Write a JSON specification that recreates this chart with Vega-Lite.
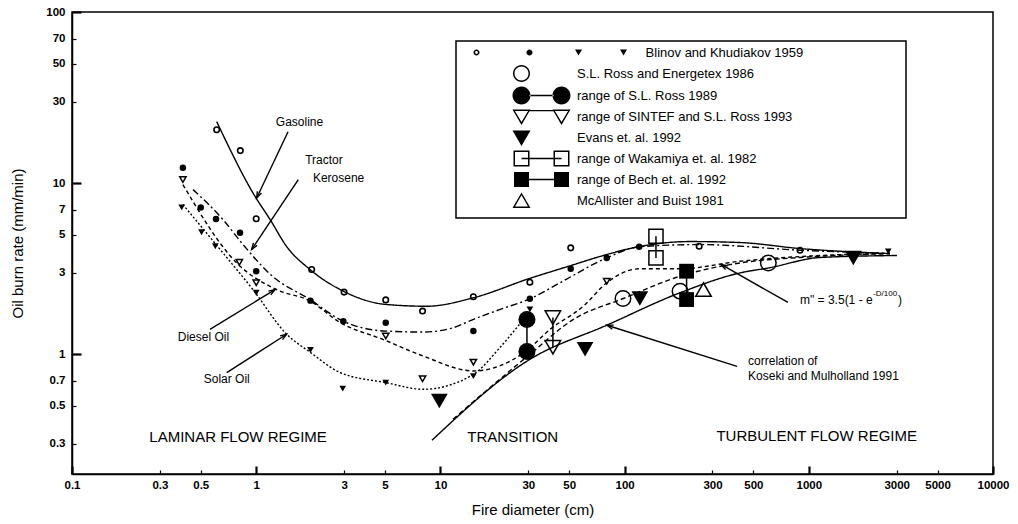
{
  "$schema": "https://vega.github.io/schema/vega-lite/v6.json",
  "width": 921,
  "height": 462,
  "autosize": {"type": "none"},
  "padding": {"left": 72, "top": 12, "right": 25, "bottom": 50},
  "background": "white",
  "config": {
    "view": {"stroke": "black", "strokeWidth": 1.5},
    "font": "Liberation Sans",
    "axis": {
      "labelFont": "Liberation Sans", "labelFontSize": 11.5, "labelFontWeight": "bold", "labelColor": "black",
      "titleFont": "Liberation Sans", "titleFontSize": 15, "titleFontWeight": "normal", "titleColor": "black",
      "domainColor": "black", "domainWidth": 1.5, "tickColor": "black", "grid": false,
      "labelFlush": false, "labelOverlap": false, "labelBound": false
    },
    "legend": {"strokeWidth": 1.5}
  },
  "datasets": {
    "gasPts": [{"x":0.61,"y":20.5},{"x":0.82,"y":15.5},{"x":1.0,"y":6.2},{"x":2.0,"y":3.13},{"x":3.0,"y":2.31},{"x":5.05,"y":2.08},{"x":8.0,"y":1.79},{"x":15.1,"y":2.17},{"x":30.6,"y":2.64},{"x":51,"y":4.19},{"x":254,"y":4.28},{"x":896,"y":4.06}],
    "kerPts": [{"x":0.40,"y":12.3},{"x":0.50,"y":7.22},{"x":0.605,"y":6.18},{"x":0.817,"y":5.13},{"x":1.0,"y":3.06},{"x":1.97,"y":2.06},{"x":2.97,"y":1.56},{"x":5.05,"y":1.53},{"x":15.1,"y":1.37},{"x":30.6,"y":2.11},{"x":51,"y":3.16},{"x":80,"y":3.66},{"x":120,"y":4.25}],
    "diePts": [{"x":0.40,"y":10.5},{"x":0.81,"y":3.45},{"x":1.0,"y":2.62},{"x":5.05,"y":1.28},{"x":8.0,"y":0.72},{"x":15.1,"y":0.90},{"x":80,"y":2.67}],
    "solPts": [{"x":0.394,"y":7.22},{"x":0.505,"y":5.17},{"x":0.60,"y":4.28},{"x":1.0,"y":2.29},{"x":1.97,"y":1.06},{"x":2.95,"y":0.63},{"x":5.05,"y":0.684},{"x":15.1,"y":0.747},{"x":30.6,"y":1.83},{"x":2700,"y":4.0}],
    "curves": [
      {"curve":"gas","x":0.61,"y":22.9},{"curve":"gas","x":0.985,"y":8.38},{"curve":"gas","x":1.19,"y":6.13},{"curve":"gas","x":1.46,"y":4.28},{"curve":"gas","x":1.96,"y":3.13},{"curve":"gas","x":2.97,"y":2.34},{"curve":"gas","x":5.0,"y":1.96},{"curve":"gas","x":8.42,"y":1.91},{"curve":"gas","x":15.1,"y":2.14},{"curve":"gas","x":30.6,"y":2.78},{"curve":"gas","x":51,"y":3.30},{"curve":"gas","x":73.5,"y":3.73},{"curve":"gas","x":120,"y":4.26},{"curve":"gas","x":226,"y":4.56},{"curve":"gas","x":423,"y":4.50},{"curve":"gas","x":896,"y":4.15},{"curve":"gas","x":2760,"y":3.88},
      {"curve":"ker","x":0.454,"y":9.17},{"curve":"ker","x":0.66,"y":6.13},{"curve":"ker","x":0.848,"y":4.38},{"curve":"ker","x":1.23,"y":2.85},{"curve":"ker","x":1.96,"y":2.09},{"curve":"ker","x":2.84,"y":1.60},{"curve":"ker","x":4.9,"y":1.37},{"curve":"ker","x":8.07,"y":1.35},{"curve":"ker","x":11.7,"y":1.43},{"curve":"ker","x":15.1,"y":1.60},{"curve":"ker","x":21.1,"y":1.83},{"curve":"ker","x":30.6,"y":2.11},{"curve":"ker","x":44.6,"y":2.62},{"curve":"ker","x":80,"y":3.66},{"curve":"ker","x":120,"y":4.25},{"curve":"ker","x":254,"y":4.38},{"curve":"ker","x":896,"y":4.06},{"curve":"ker","x":2760,"y":3.88},
      {"curve":"die","x":0.40,"y":9.8},{"curve":"die","x":0.784,"y":3.42},{"curve":"die","x":1.29,"y":2.39},{"curve":"die","x":1.96,"y":2.05},{"curve":"die","x":2.84,"y":1.54},{"curve":"die","x":4.9,"y":1.22},{"curve":"die","x":8.07,"y":0.977},{"curve":"die","x":15.1,"y":0.80},{"curve":"die","x":29,"y":1.04},{"curve":"die","x":39.4,"y":1.40},{"curve":"die","x":59.7,"y":1.91},{"curve":"die","x":80,"y":2.62},{"curve":"die","x":120,"y":3.16},{"curve":"die","x":200,"y":3.16},{"curve":"die","x":423,"y":3.50},{"curve":"die","x":1150,"y":3.78},{"curve":"die","x":2760,"y":3.88},
      {"curve":"sol","x":0.40,"y":7.5},{"curve":"sol","x":0.637,"y":4.10},{"curve":"sol","x":0.96,"y":2.39},{"curve":"sol","x":1.464,"y":1.31},{"curve":"sol","x":1.96,"y":1.03},{"curve":"sol","x":2.84,"y":0.785},{"curve":"sol","x":5.05,"y":0.684},{"curve":"sol","x":8.07,"y":0.625},{"curve":"sol","x":15.1,"y":0.764},{"curve":"sol","x":21.1,"y":1.10},{"curve":"sol","x":27.7,"y":1.56},
      {"curve":"mul","x":9.0,"y":0.315},{"curve":"mul","x":30.6,"y":0.935},{"curve":"mul","x":80,"y":1.48},{"curve":"mul","x":200,"y":2.29},{"curve":"mul","x":423,"y":2.99},{"curve":"mul","x":616,"y":3.21},{"curve":"mul","x":1150,"y":3.68},{"curve":"mul","x":3010,"y":3.78},
      {"curve":"frm","x":11.7,"y":0.418},{"curve":"frm","x":30.6,"y":1.0},{"curve":"frm","x":52.7,"y":1.60},{"curve":"frm","x":98.4,"y":2.12},{"curve":"frm","x":200,"y":2.86},{"curve":"frm","x":423,"y":3.42},{"curve":"frm","x":896,"y":3.68},{"curve":"frm","x":2760,"y":3.88}
    ],
    "ranges": [{"x":29.5,"y":1.60,"y2":1.04},{"x":40.8,"y":1.64,"y2":1.10},{"x":148,"y":4.9,"y2":3.66},{"x":217,"y":3.06,"y2":2.09}],
    "rossEnergetex": [{"x":98,"y":2.12},{"x":200,"y":2.34},{"x":603,"y":3.42}],
    "ross1989": [{"x":29.5,"y":1.60},{"x":29.5,"y":1.04}],
    "sintef": [{"x":40.8,"y":1.64},{"x":40.8,"y":1.10}],
    "evans": [{"x":9.87,"y":0.534},{"x":61,"y":1.07},{"x":121,"y":2.12},{"x":1745,"y":3.66}],
    "wakamiya": [{"x":148,"y":4.9},{"x":148,"y":3.66}],
    "bech": [{"x":217,"y":3.06},{"x":217,"y":2.09}],
    "mcallister": [{"x":268,"y":2.39}],
    "arrows": [
      {"x":1.006,"y":8.2,"x2":1.489,"y2":19.96,"angle":205},
      {"x":0.945,"y":4.10,"x2":1.693,"y2":10.48,"angle":214},
      {"x":1.265,"y":2.39,"x2":0.561,"y2":1.40,"angle":58},
      {"x":1.464,"y":1.31,"x2":0.692,"y2":0.782,"angle":57},
      {"x":334,"y":3.35,"x2":771,"y2":2.01,"angle":300},
      {"x":80.2,"y":1.48,"x2":408,"y2":0.851,"angle":288}
    ],
    "regimes": [{"label":"LAMINAR FLOW REGIME","x":0.797,"y":0.328},{"label":"TRANSITION","x":24.7,"y":0.328},{"label":"TURBULENT FLOW REGIME","x":1104,"y":0.332}],
    "fuelLabels": [{"label":"Gasoline","x":1.718,"y":22.8},{"label":"Tractor","x":2.334,"y":13.7},{"label":"Kerosene","x":2.80,"y":10.77},{"label":"Diesel Oil","x":0.517,"y":1.27},{"label":"Solar Oil","x":0.692,"y":0.722}],
    "leftLabels": [{"label":"m\" = 3.5(1 - e","x":896,"y":2.09},{"label":")","x":3050,"y":2.09},{"label":"correlation of","x":468,"y":0.91},{"label":"Koseki and Mulholland 1991","x":468,"y":0.745}],
    "supLabels": [{"label":"-D/100","x":2233,"y":2.24}],
    "series": [{"series":"Blinov and Khudiakov 1959"},{"series":"S.L. Ross and Energetex 1986"},{"series":"range of S.L. Ross 1989"},{"series":"range of SINTEF and S.L. Ross 1993"},{"series":"Evans et. al. 1992"},{"series":"range of Wakamiya et. al. 1982"},{"series":"range of Bech et. al. 1992"},{"series":"McAllister and Buist 1981"}]
  },
  "encoding": {
    "x": {"field": "x", "type": "quantitative",
      "scale": {"type": "log", "domain": [0.1, 10000], "nice": false},
      "axis": {
        "title": "Fire diameter (cm)", "titlePadding": 12,
        "values": [0.1,0.3,0.5,1,3,5,10,30,50,100,300,500,1000,3000,5000,10000],
        "format": "~g",
        "tickSize": {"condition": {"test": "indexof([0.1,1,10,100,1000,10000], datum.value) >= 0", "value": -8}, "value": -4},
        "tickWidth": {"condition": {"test": "indexof([0.1,1,10,100,1000,10000], datum.value) >= 0", "value": 2.2}, "value": 1.2},
        "labelPadding": {"condition": {"test": "indexof([0.1,1,10,100,1000,10000], datum.value) >= 0", "value": 13}, "value": 9}
      }
    },
    "y": {"field": "y", "type": "quantitative",
      "scale": {"type": "log", "domain": [0.2, 100], "nice": false},
      "axis": {
        "title": "Oil burn rate (mm/min)", "titlePadding": 20,
        "values": [0.3,0.5,0.7,1,3,5,7,10,30,50,70,100],
        "format": "~g",
        "tickSize": {"condition": {"test": "indexof([1,10,100], datum.value) >= 0", "value": -9}, "value": -4},
        "tickWidth": {"condition": {"test": "indexof([1,10,100], datum.value) >= 0", "value": 2.2}, "value": 1.2},
        "labelPadding": {"condition": {"test": "indexof([1,10,100], datum.value) >= 0", "value": 16}, "value": 11}
      }
    }
  },
  "layer": [
    {"data": {"name": "curves"}, "mark": {"type": "line", "interpolate": "monotone", "color": "black", "strokeWidth": 1.4},
      "encoding": {"detail": {"field": "curve"}, "strokeDash": {"field": "curve", "type": "nominal", "legend": null,
        "scale": {"domain": ["gas","ker","die","sol","mul","frm"], "range": [[1,0],[7,3,2,3],[4,3],[2,2],[1,0],[5,3]]}}}},
    {"data": {"name": "ranges"}, "mark": {"type": "rule", "color": "black", "strokeWidth": 1.5}, "encoding": {"y2": {"field": "y2"}}},
    {"data": {"name": "arrows"}, "mark": {"type": "rule", "color": "black", "strokeWidth": 1.4}, "encoding": {"x2": {"field": "x2"}, "y2": {"field": "y2"}}},
    {"data": {"name": "arrows"}, "mark": {"type": "point", "shape": "M-0.55,1.6L0,0L0.55,1.6", "filled": false, "color": "black", "strokeWidth": 1.4, "size": 64, "opacity": 1},
      "encoding": {"angle": {"field": "angle", "type": "quantitative", "scale": null}}},
    {"data": {"name": "gasPts"}, "mark": {"type": "point", "shape": "circle", "filled": false, "color": "black", "strokeWidth": 1.6, "size": 30, "opacity": 1}},
    {"data": {"name": "kerPts"}, "mark": {"type": "point", "shape": "circle", "filled": true, "color": "black", "size": 42, "opacity": 1}},
    {"data": {"name": "diePts"}, "mark": {"type": "point", "shape": "triangle-down", "filled": false, "color": "black", "strokeWidth": 1.5, "size": 40, "opacity": 1}},
    {"data": {"name": "solPts"}, "mark": {"type": "point", "shape": "triangle-down", "filled": true, "color": "black", "size": 45, "opacity": 1}},
    {"data": {"name": "rossEnergetex"}, "mark": {"type": "point", "shape": "circle", "filled": false, "color": "black", "strokeWidth": 1.5, "size": 240, "opacity": 1}},
    {"data": {"name": "ross1989"}, "mark": {"type": "point", "shape": "circle", "filled": true, "color": "black", "size": 290, "opacity": 1}},
    {"data": {"name": "sintef"}, "mark": {"type": "point", "shape": "triangle-down", "filled": false, "color": "black", "strokeWidth": 1.5, "size": 240, "opacity": 1}},
    {"data": {"name": "evans"}, "mark": {"type": "point", "shape": "triangle-down", "filled": true, "color": "black", "size": 280, "opacity": 1}},
    {"data": {"name": "wakamiya"}, "mark": {"type": "point", "shape": "square", "filled": false, "color": "black", "strokeWidth": 1.5, "size": 200, "opacity": 1}},
    {"data": {"name": "bech"}, "mark": {"type": "point", "shape": "square", "filled": true, "color": "black", "size": 220, "opacity": 1}},
    {"data": {"name": "mcallister"}, "mark": {"type": "point", "shape": "triangle-up", "filled": false, "color": "black", "strokeWidth": 1.5, "size": 240, "opacity": 1}},
    {"data": {"name": "regimes"}, "mark": {"type": "text", "fontSize": 15, "color": "black", "align": "center", "baseline": "middle"}, "encoding": {"text": {"field": "label"}}},
    {"data": {"name": "fuelLabels"}, "mark": {"type": "text", "fontSize": 12, "color": "black", "align": "center", "baseline": "middle"}, "encoding": {"text": {"field": "label"}}},
    {"data": {"name": "leftLabels"}, "mark": {"type": "text", "fontSize": 12, "color": "black", "align": "left", "baseline": "middle"}, "encoding": {"text": {"field": "label"}}},
    {"data": {"name": "supLabels"}, "mark": {"type": "text", "fontSize": 8, "color": "black", "align": "left", "baseline": "middle"}, "encoding": {"text": {"field": "label"}}},
    {"data": {"name": "series"}, "transform": [{"filter": "false"}],
      "mark": {"type": "point", "filled": true, "color": "black", "stroke": "black", "strokeWidth": 1},
      "encoding": {
        "shape": {"field": "series", "type": "nominal",
          "scale": {
            "domain": ["Blinov and Khudiakov 1959","S.L. Ross and Energetex 1986","range of S.L. Ross 1989","range of SINTEF and S.L. Ross 1993","Evans et. al. 1992","range of Wakamiya et. al. 1982","range of Bech et. al. 1992","McAllister and Buist 1981"],
            "range": [
              "M-84,-8M222,10M-62,0A3,3 0 1,0 -68,0A3,3 0 1,0 -62,0ZM-63.6,0A1.4,1.4 0 1,1 -66.4,0A1.4,1.4 0 1,1 -63.6,0ZM-9,0A3,3 0 1,0 -15,0A3,3 0 1,0 -9,0ZM33.5,-3L40.5,-3L37,3ZM78.5,-3L85.5,-3L82,3Z",
              "M-84,-8M222,10M-11.5,0A8.5,8.5 0 1,0 -28.5,0A8.5,8.5 0 1,0 -11.5,0ZM-13,0A7,7 0 1,1 -27,0A7,7 0 1,1 -13,0Z",
              "M-84,-8M222,10M-11,0A9,9 0 1,0 -29,0A9,9 0 1,0 -11,0ZM29,0A9,9 0 1,0 11,0A9,9 0 1,0 29,0ZM-12,-0.8L12,-0.8L12,0.8L-12,0.8Z",
              "M-84,-8M222,10M-29,-7L-11,-7L-20,8.5ZM-26.6,-5.6L-20,5.6L-13.4,-5.6ZM11,-7L29,-7L20,8.5ZM13.4,-5.6L20,5.6L26.6,-5.6ZM-12,-6.6L12,-6.6L12,-5.2L-12,-5.2Z",
              "M-84,-8M222,10M-29,-7L-11,-7L-20,8.5Z",
              "M-84,-8M222,10M-28,-8L-12,-8L-12,8L-28,8ZM-26.5,-6.5L-26.5,6.5L-13.5,6.5L-13.5,-6.5ZM12,-8L28,-8L28,8L12,8ZM13.5,-6.5L13.5,6.5L26.5,6.5L26.5,-6.5ZM-20,-0.7L20,-0.7L20,0.7L-20,0.7Z",
              "M-84,-8M222,10M-27.5,-7.5L-12.5,-7.5L-12.5,7.5L-27.5,7.5ZM12.5,-7.5L27.5,-7.5L27.5,7.5L12.5,7.5ZM-13,-0.8L13,-0.8L13,0.8L-13,0.8Z",
              "M-84,-8M222,10M-29,7.5L-20,-8L-11,7.5ZM-26.5,6L-13.5,6L-20,-5.2Z"
            ]
          },
          "legend": {
            "orient": "none", "legendX": 384, "legendY": 29, "title": null,
            "symbolSize": 4, "symbolStrokeWidth": 1, "symbolFillColor": "black", "symbolStrokeColor": "black", "symbolOpacity": 1,
            "symbolOffset": 74,
            "labelFont": "Liberation Sans", "labelFontSize": 13, "labelColor": "black", "labelLimit": 500,
            "labelOffset": 29, "rowPadding": -2.0, "padding": 5, "strokeColor": "black",
            "labelExpr": "datum.label == 'Blinov and Khudiakov 1959' ? '\u200d\u00a0\u00a0\u00a0\u00a0\u00a0\u00a0\u00a0\u00a0\u00a0\u00a0\u00a0\u00a0\u00a0\u00a0\u00a0\u00a0\u00a0\u00a0\u00a0' + datum.label + '\u00a0\u00a0\u00a0\u00a0\u00a0\u00a0\u00a0\u00a0\u00a0\u00a0\u00a0\u00a0\u00a0\u00a0\u00a0\u00a0\u00a0\u00a0\u00a0\u00a0\u00a0\u00a0\u00a0\u00a0\u00a0\u00a0\u00a0\u200d' : datum.label"
          }
        }
      }
    }
  ]
}
